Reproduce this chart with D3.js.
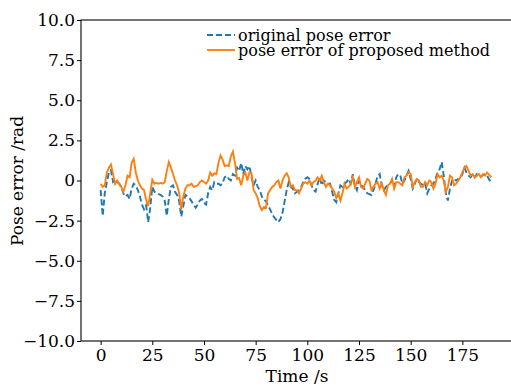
<!DOCTYPE html>
<html>
<head>
<meta charset="utf-8">
<script src="https://cdn.jsdelivr.net/npm/d3@7"></script>
<style>
  body { margin: 0; background: #fff; }
  text { font-family: "DejaVu Serif", serif; fill: #000; }
</style>
</head>
<body>
<div id="wrapper"></div>
<script>
// values, one per second, t = 0 .. 189
const original = [
  -0.6, -2.2, -0.8, -0.1, 0.5, 0.65, -0.1, 0.0, -0.1, -0.2,
  -0.4, -0.8, -1.0, -0.9, -1.15, -0.5, -0.2, -0.3, -0.6, -1.0,
  -1.5, -1.8, -1.55, -2.6, -1.7, -0.4, -0.7, -0.8, -0.85, -0.9,
  -1.0, -1.25, -2.2, -1.15, -0.4, -0.3, -0.7, -0.9, -1.3, -2.25,
  -1.6, -0.9, -1.0, -1.1, -1.3, -1.5, -1.7, -1.5, -1.25, -1.15,
  -1.4, -1.5, -0.8, -0.4, -0.6, -0.1, -0.2, -0.2, -0.3, -0.15,
  0.2, 0.3, 0.1, 0.0, 0.4, 0.3, 0.8, 0.6, 1.1, 0.4,
  0.9, 0.7, 0.9, 0.2, -0.3, 0.0, -0.4, -0.6, -1.0, -1.2,
  -1.3, -1.55, -1.8, -2.1, -2.3, -2.45, -2.6, -2.4, -2.0, -1.3,
  -0.6, -0.1, -0.4, -0.5, -0.8, -0.7, -0.6, -0.4, -0.1, 0.1,
  0.2, 0.1, -0.3, -0.6, -0.7, -0.2, 0.2, -0.3, 0.0, -0.1,
  -0.2, -0.2, -0.7, -1.2, -1.35, -0.8, -0.3, -0.4, -0.2, -0.1,
  0.1, -0.2, 0.4, -0.3, -0.6, 0.0, -0.3, -0.4, -0.6, -0.8,
  -0.85, -0.9, -0.6, -0.2, 0.3, 0.4, -0.3, -0.6, -0.4, -0.3,
  -0.2, 0.0, -0.4, 0.2, 0.4, 0.3, -0.2, 0.0, 0.3, 0.6,
  0.1, -0.5, -0.2, 0.1, -0.1, -0.2, -0.3, -0.2, -0.8, -0.5,
  -0.3, -0.2, 0.1, 0.5, 0.7, 1.15, 0.3, -0.8, -1.25, -0.5,
  0.0, 0.1, 0.0, 0.1, 0.1, 0.4, 0.8, 0.5, 0.3, 0.2,
  0.4, 0.2, 0.4, 0.3, 0.25, 0.35, 0.4, 0.3, 0.05, -0.1
]
const proposed = [
  -0.2, -0.4, -0.3, 0.5, 0.8, 1.0, 0.4, -0.2, 0.0, -0.2,
  -0.4, -0.7, -0.3, 0.3, 0.2, 1.1, 1.35, 0.5, 0.0, -0.3,
  -0.5, -0.6, -1.2, -1.6, -0.8, 0.05, -0.2, -0.15, -0.2, -0.15,
  -0.2, -0.1, 0.6, 1.15, 0.8, 0.4, 0.0, -0.3, -0.8, -1.8,
  -1.0, -0.5, -0.3, -0.3, -0.2, -0.4, -0.35, -0.3, -0.1, 0.0,
  -0.1, -0.2, 0.0, 0.5, 0.3, 0.45, 0.4, 1.1, 1.55, 1.3,
  0.9, 0.95, 0.9, 1.5, 1.8, 1.1, 0.1, 0.15, -0.3, 0.3,
  0.5, 0.0, 0.5, 0.45, -0.6, -0.8, -1.1, -1.6, -1.85, -1.65,
  -1.7, -0.8, -0.6, -0.4, -0.3, -0.1, 0.0, -0.5, 0.0, 0.3,
  0.45, 0.2, -0.4, -0.3, -0.6, -0.6, -0.8, -0.5, -0.2, -0.1,
  -0.2, 0.0, -0.3, -0.1, 0.0, 0.2, 0.0, 0.3, -0.1, -0.4,
  -0.2, -0.3, -0.5, -0.7, -1.1, -0.8, -1.25, -0.8, -0.2, -0.5,
  -0.4, -0.2, 0.2, -0.4, -0.1, 0.2, -0.4, -0.5, -0.2, 0.1,
  0.0, -0.6, -0.4, -0.2, -0.1, -0.5, -0.2, -0.6, -0.9, -0.3,
  -0.2, 0.1, -0.5, -0.1, -0.1, -0.2, -0.3, 0.2, 0.3, 0.5,
  0.4, -0.4, -0.1, 0.1, 0.0, -0.4, -0.4, -0.1, -0.3, 0.0,
  -0.1, -0.5, -0.2, 0.4, 0.2, 0.3, 0.0, -0.7, -0.4, 0.3,
  0.2, -0.3, -0.2, 0.0, 0.2, 0.5, 0.8, 0.9, 0.6, 0.3,
  0.4, 0.2, 0.3, 0.4, 0.2, 0.4, 0.3, 0.5, 0.35, 0.2
]
const xTicks = [0, 25, 50, 75, 100, 125, 150, 175]
const yTicks = [-10, -7.5, -5, -2.5, 0, 2.5, 5, 7.5, 10]
const seriesNames = ["original pose error", "pose error of proposed method"]

const timeAccessor = (d, i) => i

let dimensions = {
  width: 511,
  height: 386,
  margin: {
    top: 20,
    right: -2,
    bottom: 45,
    left: 81
  }
}
dimensions.boundedWidth = dimensions.width - dimensions.margin.left - dimensions.margin.right
dimensions.boundedHeight = dimensions.height - dimensions.margin.top - dimensions.margin.bottom

const wrapper = d3.select('#wrapper')
  .append('svg')
  .attr('width', dimensions.width)
  .attr('height', dimensions.height)

const bounds = wrapper.append('g')
  .attr('transform', `translate(${dimensions.margin.left}, ${dimensions.margin.top})`)

const xScale = d3.scaleLinear()
  .domain([-9.5, 199.5])
  .range([0, dimensions.boundedWidth])
const yScale = d3.scaleLinear()
  .domain([-10, 10])
  .range([dimensions.boundedHeight, 0])

const lineGen = d3.line()
  .x((d, i) => xScale(timeAccessor(d, i)))
  .y(d => yScale(d))

bounds.append('path')
  .attr('d', lineGen(original))
  .attr('fill', 'none')
  .attr('stroke', '#1f77b4')
  .attr('stroke-width', 1.9)
  .attr('stroke-dasharray', '6,3')

bounds.append('path')
  .attr('d', lineGen(proposed))
  .attr('fill', 'none')
  .attr('stroke', '#ff7f0e')
  .attr('stroke-width', 1.9)

// frame (right edge falls just outside the picture)
bounds.append('rect')
  .attr('width', dimensions.boundedWidth)
  .attr('height', dimensions.boundedHeight)
  .attr('fill', 'none')
  .attr('stroke', '#000')
  .attr('stroke-width', 1.1)

const yFormat = d => d === 0 ? '0' : d3.format('.1f')(d)

const yAxis = bounds.append('g')
  .call(d3.axisLeft(yScale).tickValues(yTicks).tickFormat(yFormat)
    .tickSize(4).tickSizeOuter(0).tickPadding(2))
const xAxis = bounds.append('g')
  .attr('transform', `translate(0, ${dimensions.boundedHeight})`)
  .call(d3.axisBottom(xScale).tickValues(xTicks)
    .tickSize(4).tickSizeOuter(0).tickPadding(4))

wrapper.selectAll('.domain').remove()
wrapper.selectAll('.tick line').attr('stroke', '#000').attr('stroke-width', 1)
wrapper.selectAll('.tick text')
  .style('font-family', '"DejaVu Serif", serif')
  .style('font-size', '17px')
  .attr('fill', '#000')

wrapper.append('text')
  .attr('x', 297)
  .attr('y', 382)
  .attr('text-anchor', 'middle')
  .style('font-size', '17px')
  .text('Time /s')

wrapper.append('text')
  .attr('transform', 'translate(23, 181) rotate(-90)')
  .attr('text-anchor', 'middle')
  .style('font-size', '17px')
  .text('Pose error /rad')

// legend, no frame
const legend = wrapper.append('g')
const legendRows = [
  { name: seriesNames[0], color: '#1f77b4', dash: '6,3', y: 35 },
  { name: seriesNames[1], color: '#ff7f0e', dash: null, y: 50 }
]
legendRows.forEach(r => {
  legend.append('line')
    .attr('x1', 207).attr('x2', 235)
    .attr('y1', r.y).attr('y2', r.y)
    .attr('stroke', r.color)
    .attr('stroke-width', 1.9)
    .attr('stroke-dasharray', r.dash)
  legend.append('text')
    .attr('x', 238)
    .attr('y', r.y)
    .attr('dy', '0.35em')
    .style('font-size', '16px')
    .text(r.name)
})
</script>
</body>
</html>
